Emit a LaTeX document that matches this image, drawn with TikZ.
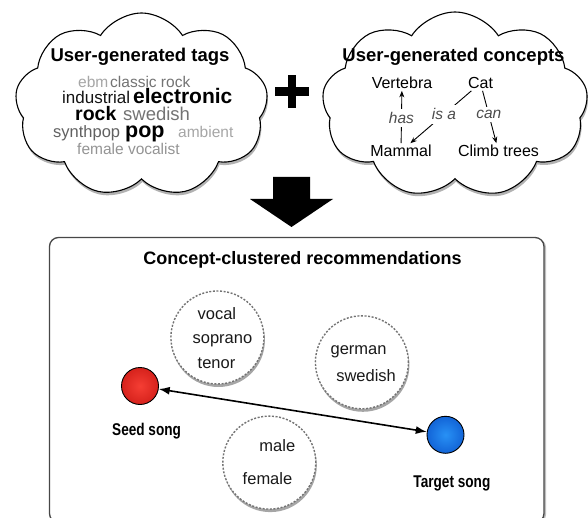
\documentclass[tikz,border=0pt]{standalone}
\usepackage{fontspec}
\setmainfont{Liberation Sans}
\usetikzlibrary{shapes.symbols,shadows,arrows.meta}
\definecolor{seedin}{RGB}{245,62,52}
\definecolor{seedout}{RGB}{214,34,28}
\definecolor{targin}{RGB}{40,145,245}
\definecolor{targout}{RGB}{18,100,215}
\begin{document}
\begin{tikzpicture}[x=1pt,y=-1pt,
  cloudbox/.style={cloud, cloud puffs=9, cloud puff arc=115, cloud ignores aspect,
    draw=black, line width=1.1pt, fill=white,
    drop shadow={shadow xshift=1pt, shadow yshift=-3pt, opacity=0.3, fill=black}},
  title/.style={font=\fontsize{18.5}{20}\selectfont\bfseries, anchor=base, inner sep=0pt},
  tagw/.style={anchor=base west, inner sep=0pt},
  concept/.style={font=\fontsize{16}{18}\selectfont, anchor=base, inner sep=2pt},
  rel/.style={font=\fontsize{15.5}{17}\selectfont\itshape, text=black!70, fill=white, inner sep=3.5pt},
  relarrow/.style={line width=0.9pt, -{Stealth[length=6.5pt,width=5pt]}},
  cluster/.style={circle, draw=black!55, dash pattern=on 2pt off 1.6pt, line width=1.4pt,
    fill=white, minimum size=93pt, inner sep=0pt,
    drop shadow={shadow xshift=1pt, shadow yshift=-3pt, opacity=0.35, fill=black}},
  clword/.style={font=\fontsize{16.5}{18}\selectfont, anchor=base, inner sep=0pt, text=black!90},
  song/.style={circle, draw=black, line width=0.9pt, minimum size=37pt, inner sep=0pt},
  songlbl/.style={anchor=base, inner sep=0pt}
]
\useasboundingbox (0,0) rectangle (588,518);

% ---------- clouds ----------
\node[cloudbox, minimum width=253pt, minimum height=184pt] (tagcloud) at (141.5,105) {};
\node[cloudbox, minimum width=266pt, minimum height=186pt] (conceptcloud) at (455,105) {};

% titles
\node[title] (tagtitle) at (140,62) {User-generated tags};
\node[title] (contitle) at (453.5,62) {User-generated concepts};

% tag words
\node[tagw, text=black!35, font=\fontsize{15.5}{18}\selectfont] (ebm) at (78,87.5) {ebm};
\node[tagw, text=black!55, font=\fontsize{15.5}{18}\selectfont] (classic) at (110,87.5) {classic rock};
\node[tagw, text=black!92, font=\fontsize{17}{18}\selectfont] (industrial) at (62,104) {industrial};
\node[tagw, text=black, font=\fontsize{21}{24}\selectfont\bfseries] (electronic) at (133,104) {electronic};
\node[tagw, text=black, font=\fontsize{19.5}{22}\selectfont\bfseries] (rock) at (75,121) {rock};
\node[tagw, text=black!55, font=\fontsize{18.5}{20}\selectfont] (swedish) at (123,121) {swedish};
\node[tagw, text=black!62, font=\fontsize{16.5}{18}\selectfont] (synthpop) at (53,137.5) {synthpop};
\node[tagw, text=black, font=\fontsize{21.5}{26}\selectfont\bfseries] (pop) at (125,137.5) {pop};
\node[tagw, text=black!35, font=\fontsize{15.5}{17}\selectfont] (ambient) at (178,137.5) {ambient};
\node[tagw, text=black!42, font=\fontsize{15.5}{17}\selectfont] (female) at (77,155) {female vocalist};

% concepts
\node[concept] (vertebra) at (402,88.5) {Vertebra};
\node[concept] (cat) at (480.5,88.5) {Cat};
\node[concept] (mammal) at (401,157) {Mammal};
\node[concept] (climb) at (498.5,157) {Climb trees};

\draw[relarrow] (mammal) -- node[rel, pos=0.48] (has) {has} (vertebra);
\draw[relarrow] (cat) -- node[rel, pos=0.45] (isa) {is a} (mammal);
\draw[relarrow] (cat) -- node[rel, pos=0.45] (can) {can} (climb);

% plus sign
\fill (288,75) rectangle (296,108);
\fill (275,87.5) rectangle (309,96);

% down arrow
\fill (273,177) -- (310,177) -- (310,199) -- (333,199) -- (291.5,227) -- (250,199) -- (273,199) -- cycle;

% ---------- recommendation box ----------
\node[draw=black!72, line width=1.3pt, rounded corners=9pt, fill=white,
  minimum width=494.5pt, minimum height=285pt, inner sep=0pt,
  drop shadow={shadow xshift=2pt, shadow yshift=-1pt, opacity=0.25, fill=black}]
  (recbox) at (296.75,380) {};
\node[title, font=\fontsize{18}{20}\selectfont\bfseries] (rectitle) at (302.5,264.8) {Concept-clustered recommendations};

% clusters
\node[cluster] (voice) at (217.4,337.5) {};
\node[clword] (vocal) at (216.9,319.4) {vocal};
\node[clword] (soprano) at (222.4,343.7) {soprano};
\node[clword] (tenor) at (216.5,368.2) {tenor};

\node[cluster] (lang) at (361.9,362.3) {};
\node[clword] (german) at (358.6,354.6) {german};
\node[clword] (swed) at (366.1,381.9) {swedish};

\node[cluster] (gender) at (269.3,462.6) {};
\node[clword] (male) at (277.3,451.2) {male};
\node[clword] (femaleb) at (267.5,484.3) {female};

% songs
\node[song, inner color=seedin, outer color=seedout] (seed) at (140,386) {};
\node[song, inner color=targin, outer color=targout] (target) at (445.5,434.8) {};
\node[songlbl] (seedlbl) at (146.6,435.8) {\scalebox{0.8}[1]{\fontsize{17}{18}\selectfont\bfseries Seed song}};
\node[songlbl] (targetlbl) at (451.9,487.7) {\scalebox{0.8}[1]{\fontsize{17}{18}\selectfont\bfseries Target song}};

\draw[line width=1.6pt, {Latex[length=11pt,width=8pt]}-{Latex[length=11pt,width=8pt]}] (seed) -- (target);
\end{tikzpicture}
\end{document}
